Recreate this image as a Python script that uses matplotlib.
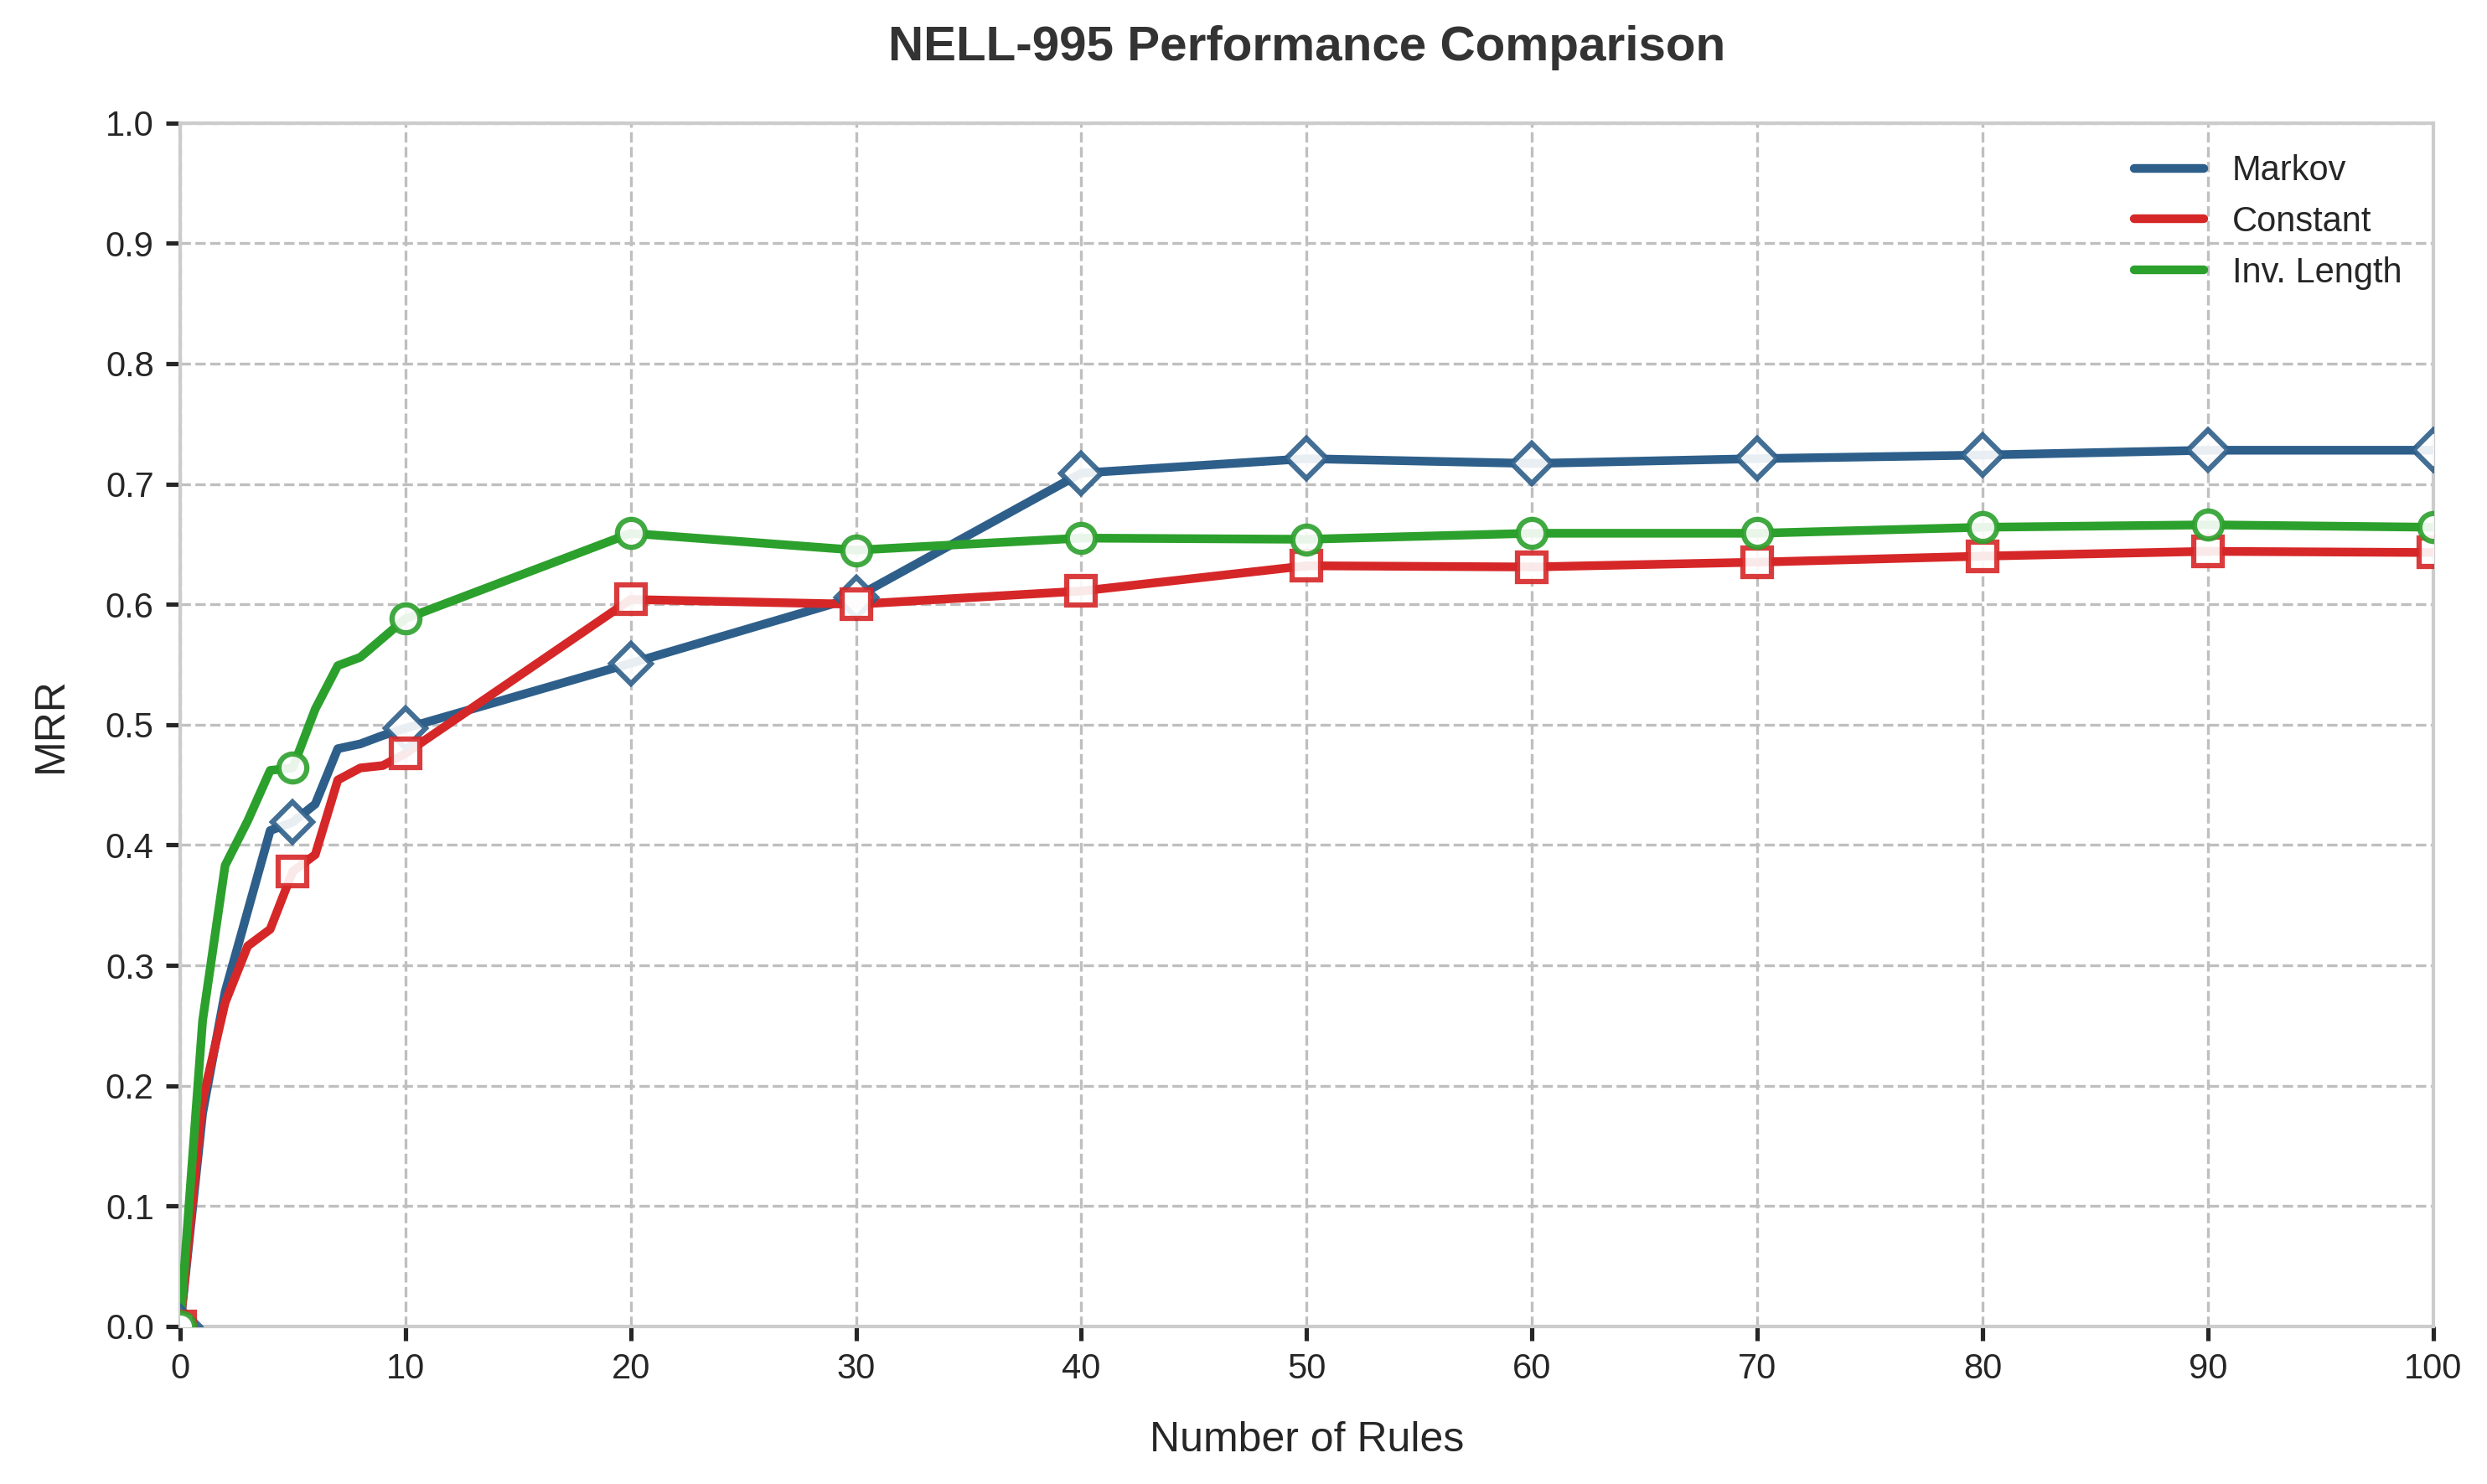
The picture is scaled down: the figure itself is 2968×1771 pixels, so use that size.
import matplotlib
matplotlib.use("Agg")
import matplotlib.pyplot as plt

# number of rules and MRR per weighting scheme (NELL-995)
num_rules = [0, 1, 2, 3, 4, 5, 6, 7, 8, 9, 10, 20, 30, 40, 50, 60, 70, 80, 90, 100]

markov = [0.0, 0.177, 0.278, 0.345, 0.412, 0.419, 0.434, 0.480, 0.484, 0.491, 0.497,
          0.551, 0.606, 0.709, 0.721, 0.717, 0.721, 0.724, 0.728, 0.728]
constant = [0.0, 0.188, 0.269, 0.316, 0.330, 0.378, 0.392, 0.454, 0.464, 0.466, 0.476,
            0.604, 0.600, 0.611, 0.632, 0.631, 0.635, 0.640, 0.644, 0.643]
inv_length = [0.0, 0.254, 0.383, 0.420, 0.462, 0.464, 0.513, 0.549, 0.556, 0.572, 0.588,
              0.659, 0.645, 0.655, 0.654, 0.659, 0.659, 0.664, 0.666, 0.664]

series_names = ["Markov", "Constant", "Inv. Length"]
series_colors = ["#2e5f8a", "#d62728", "#2ca02c"]
series_markers = ["D", "s", "o"]

# markers only at 0, 5, 10 and every 10 after that
marker_x = [0, 5, 10, 20, 30, 40, 50, 60, 70, 80, 90, 100]


def main():
    plt.rcParams["font.family"] = ["Liberation Sans", "DejaVu Sans"]

    fig = plt.figure(figsize=(2968 / 300, 1771 / 300), dpi=300)
    ax = fig.add_axes([0.0724, 0.1062, 0.906, 0.811])

    marks = [num_rules.index(v) for v in marker_x]
    all_series = [markov, constant, inv_length]

    for values, name, color, marker in zip(all_series, series_names, series_colors, series_markers):
        ax.plot(num_rules, values, color=color, linewidth=2.5, label=name,
                solid_capstyle="round", solid_joinstyle="round", zorder=3)
        ax.plot(num_rules, values, linestyle="none", marker=marker, markevery=marks,
                markersize=8, markerfacecolor="white", markeredgecolor=color,
                markeredgewidth=1.5, alpha=0.9, zorder=4)

    ax.set_xlim(0, 100)
    ax.set_ylim(0, 1.0)
    ax.set_xticks(range(0, 101, 10))
    ax.set_yticks([i / 10 for i in range(11)])
    ax.set_yticklabels([f"{i / 10:.1f}" for i in range(11)])

    ax.grid(True, linestyle="--", color="#bfbfbf", linewidth=0.8)
    ax.set_axisbelow(True)
    for spine in ax.spines.values():
        spine.set_color("#cccccc")
        spine.set_linewidth(1.0)

    ax.tick_params(axis="both", direction="out", length=4, width=1.25,
                   color="#262626", labelcolor="#262626", labelsize=10)

    ax.set_xlabel("Number of Rules", fontsize=12, color="#262626", labelpad=10)
    ax.set_ylabel("MRR", fontsize=12, color="#262626", labelpad=10)
    ax.set_title("NELL-995 Performance Comparison", fontsize=14, fontweight="bold",
                 color="#333333", pad=18)

    leg = ax.legend(loc="upper right", frameon=False, fontsize=10)
    for text in leg.get_texts():
        text.set_color("#262626")

    fig.savefig("out.png", dpi=300)


if __name__ == "__main__":
    main()
